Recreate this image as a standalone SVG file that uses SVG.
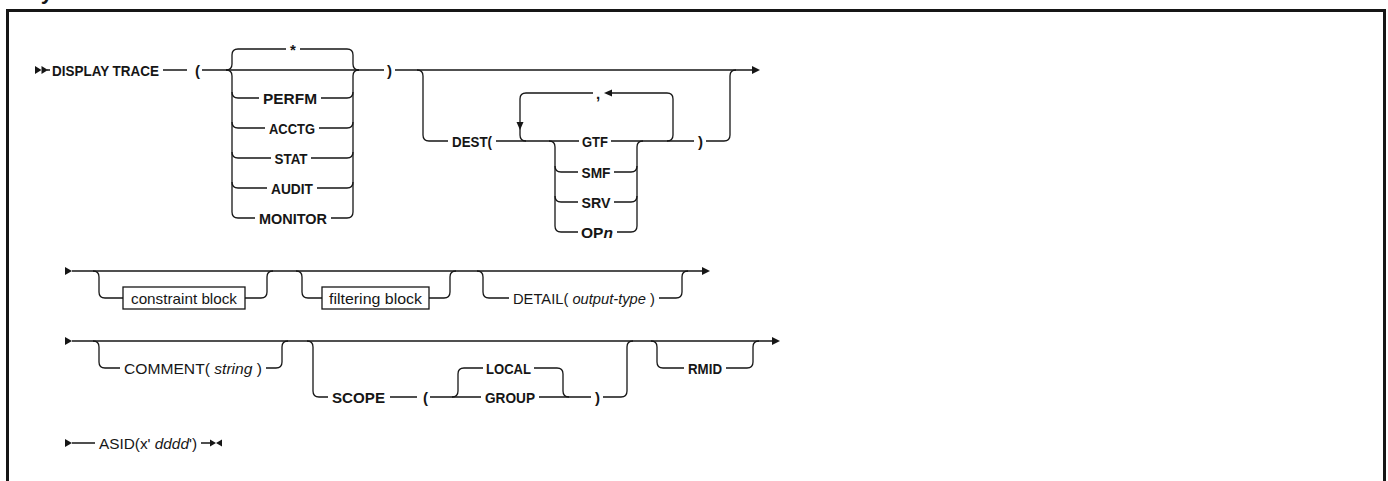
<svg xmlns="http://www.w3.org/2000/svg" width="1388" height="481" viewBox="0 0 1388 481">
<style>
.c{fill:none;stroke:#161616;stroke-width:1.3}
.a{fill:#161616}
.b{font-family:"Liberation Sans",Arial,sans-serif;font-size:15px;font-weight:bold;fill:#161616}
.r{font-family:"Liberation Sans",Arial,sans-serif;font-size:15px;fill:#161616}
.m{text-anchor:middle}
.box{fill:#fff;stroke:#161616;stroke-width:1.3}
.frame{fill:none;stroke:#161616;stroke-width:3}
</style>
<rect class="frame" x="7.5" y="10.5" width="1377" height="500"/>
<text class="b" x="26" y="-1" style="font-size:22px">Syntax</text>

<g id="connectors">
  <!-- row 1 -->
  <polygon class="a" points="35,66 41.5,70 35,74"/>
  <polygon class="a" points="41.5,66 48,70 41.5,74"/>
  <path class="c" d="M47,70 H50 M163,70 H187 M202,70 H384"/>
  <path class="c" d="M226,70 Q232,70 232,64 V55 Q232,49 238,49 H286 M300,49 H347 Q353,49 353,55 V64 Q353,70 359,70"/>
  <path class="c" d="M226,70 Q232,70 232,76 V92 Q232,98 238,98 H259 M321,98 H347 Q353,98 353,92 V76 Q353,70 359,70"/>
  <path class="c" d="M232,92 V122 Q232,128 238,128 H265 M319,128 H347 Q353,128 353,122 V92"/>
  <path class="c" d="M232,122 V152 Q232,158 238,158 H271 M311,158 H347 Q353,158 353,152 V122"/>
  <path class="c" d="M232,152 V182 Q232,188 238,188 H267 M317,188 H347 Q353,188 353,182 V152"/>
  <path class="c" d="M232,182 V212 Q232,218 238,218 H255 M331,218 H347 Q353,218 353,212 V182"/>
  <path class="c" d="M395,70 H752"/>
  <polygon class="a" points="752,66 760,70 752,74"/>
  <!-- DEST -->
  <path class="c" d="M417,70 Q423,70 423,76 V135 Q423,141 429,141 H448 M496,141 H579 M611,141 H694 M706,141 H724 Q730,141 730,135 V76 Q730,70 736,70"/>
  <path class="c" d="M667,141 Q673,141 673,135 V99 Q673,93 667,93 H612 M593,93 H526 Q520,93 520,99 V135 Q520,141 526,141"/>
  <polygon class="a" points="604,93 612,89.5 612,96.5"/>
  <polygon class="a" points="516.5,122 523.5,122 520,130"/>
  <path class="c" d="M549,141 Q555,141 555,147 V166 Q555,172 561,172 H578 M614,172 H631 Q637,172 637,166 V147 Q637,141 643,141"/>
  <path class="c" d="M555,166 V196 Q555,202 561,202 H578 M614,202 H631 Q637,202 637,196 V166"/>
  <path class="c" d="M555,196 V226 Q555,232 561,232 H578 M617,232 H631 Q637,232 637,226 V196"/>
  <!-- row 2 -->
  <polygon class="a" points="65,267 72,271 65,275"/>
  <path class="c" d="M72,271 H702"/>
  <polygon class="a" points="702,267 710,271 702,275"/>
  <path class="c" d="M93,271 Q99,271 99,277 V292 Q99,298 105,298 H123 M245,298 H261 Q267,298 267,292 V277 Q267,271 273,271"/>
  <path class="c" d="M296,271 Q302,271 302,277 V292 Q302,298 308,298 H322 M429,298 H444 Q450,298 450,292 V277 Q450,271 456,271"/>
  <path class="c" d="M477,271 Q483,271 483,277 V292 Q483,298 489,298 H509 M659,298 H676 Q682,298 682,292 V277 Q682,271 688,271"/>
  <!-- row 3 -->
  <polygon class="a" points="65,337 72,341 65,345"/>
  <path class="c" d="M72,341 H772"/>
  <polygon class="a" points="772,337 780,341 772,345"/>
  <path class="c" d="M93,341 Q99,341 99,347 V362 Q99,368 105,368 H120 M266,368 H276 Q282,368 282,362 V347 Q282,341 288,341"/>
  <path class="c" d="M307,341 Q313,341 313,347 V391 Q313,397 319,397 H328 M390,397 H417 M430,397 H481 M539,397 H591 M603,397 H621 Q627,397 627,391 V347 Q627,341 633,341"/>
  <path class="c" d="M452,397 Q458,397 458,391 V374 Q458,368 464,368 H483 M534,368 H557 Q563,368 563,374 V391 Q563,397 569,397"/>
  <path class="c" d="M651,341 Q657,341 657,347 V362 Q657,368 663,368 H684 M726,368 H747 Q753,368 753,362 V347 Q753,341 759,341"/>
  <!-- row 4 -->
  <polygon class="a" points="65,439 72,443 65,447"/>
  <path class="c" d="M72,443 H95 M201,443 H210"/>
  <polygon class="a" points="210,439.5 216,443 210,446.5"/>
  <polygon class="a" points="222,439.5 216,443 222,446.5"/>
</g>

<g id="cmd"><text class="b" x="52" y="75.5" textLength="107" lengthAdjust="spacingAndGlyphs">DISPLAY TRACE</text></g>
<g id="p1"><text class="b" x="195" y="75.5">(</text></g>
<g id="star"><text class="b m" x="293" y="54.5">*</text></g>
<g id="perfm"><text class="b m" x="290" y="103.5" textLength="54" lengthAdjust="spacingAndGlyphs">PERFM</text></g>
<g id="acctg"><text class="b m" x="292" y="133.5" textLength="46" lengthAdjust="spacingAndGlyphs">ACCTG</text></g>
<g id="stat"><text class="b m" x="291" y="163.5" textLength="33" lengthAdjust="spacingAndGlyphs">STAT</text></g>
<g id="audit"><text class="b m" x="292" y="193.5" textLength="42" lengthAdjust="spacingAndGlyphs">AUDIT</text></g>
<g id="monitor"><text class="b m" x="293" y="223.5" textLength="68" lengthAdjust="spacingAndGlyphs">MONITOR</text></g>
<g id="p2"><text class="b" x="387" y="75.5">)</text></g>
<g id="dest"><text class="b" x="452" y="146.5" textLength="40" lengthAdjust="spacingAndGlyphs">DEST(</text></g>
<g id="comma"><text class="b m" x="598" y="98.5">,</text></g>
<g id="gtf"><text class="b m" x="595" y="146.5" textLength="26" lengthAdjust="spacingAndGlyphs">GTF</text></g>
<g id="smf"><text class="b m" x="596" y="177.5" textLength="29" lengthAdjust="spacingAndGlyphs">SMF</text></g>
<g id="srv"><text class="b m" x="596" y="207.5" textLength="29" lengthAdjust="spacingAndGlyphs">SRV</text></g>
<g id="opn"><text class="b m" x="597" y="237.5" textLength="32" lengthAdjust="spacingAndGlyphs">OP<tspan font-style="italic">n</tspan></text></g>
<g id="p3"><text class="b" x="698" y="146.5">)</text></g>

<g id="constraint"><rect class="box" x="123" y="287" width="122" height="22"/><text class="r m" x="184" y="303.5" textLength="106" lengthAdjust="spacingAndGlyphs">constraint block</text></g>
<g id="filtering"><rect class="box" x="322" y="287" width="107" height="22"/><text class="r m" x="375.5" y="303.5" textLength="93" lengthAdjust="spacingAndGlyphs">filtering block</text></g>
<g id="detail"><text class="r" x="513" y="303.5" textLength="142" lengthAdjust="spacingAndGlyphs">DETAIL( <tspan font-style="italic">output-type</tspan> )</text></g>

<g id="comment"><text class="r" x="124" y="373.5" textLength="138" lengthAdjust="spacingAndGlyphs">COMMENT( <tspan font-style="italic">string</tspan> )</text></g>
<g id="scope"><text class="b" x="332" y="402.5" textLength="53" lengthAdjust="spacingAndGlyphs">SCOPE</text></g>
<g id="p4"><text class="b" x="423" y="402.5">(</text></g>
<g id="local"><text class="b m" x="508.5" y="373.5" textLength="45" lengthAdjust="spacingAndGlyphs">LOCAL</text></g>
<g id="group"><text class="b m" x="510" y="402.5" textLength="50" lengthAdjust="spacingAndGlyphs">GROUP</text></g>
<g id="p5"><text class="b" x="595" y="402.5">)</text></g>
<g id="rmid"><text class="b m" x="705" y="373.5" textLength="34" lengthAdjust="spacingAndGlyphs">RMID</text></g>

<g id="asid"><text class="r" x="99" y="448.5" textLength="98" lengthAdjust="spacingAndGlyphs">ASID(x' <tspan font-style="italic">dddd</tspan>')</text></g>
</svg>
